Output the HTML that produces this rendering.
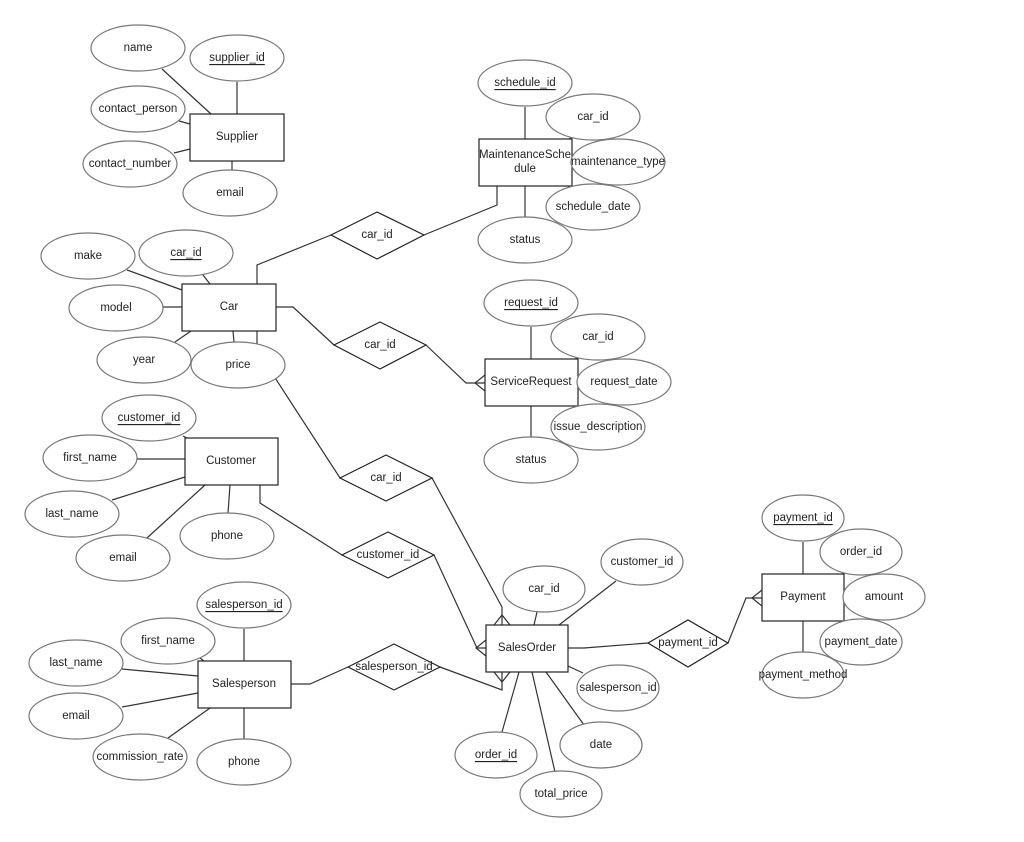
<!DOCTYPE html>
<html><head><meta charset="utf-8"><style>
html,body{margin:0;padding:0;background:#fff}
svg{display:block}
text{font-family:"Liberation Sans",Arial,sans-serif;font-size:11.5px;fill:#222;text-anchor:middle;dominant-baseline:central}
.e{fill:#fff;stroke:#777;stroke-width:1.2}
.r{fill:#fff;stroke:#222;stroke-width:1.2}
.l{fill:none;stroke:#333;stroke-width:1.2}
</style></head><body>
<svg width="1024" height="842" viewBox="0 0 1024 842" xmlns="http://www.w3.org/2000/svg">
<g class="l">
<line x1="162" y1="69" x2="211" y2="114"/><line x1="237" y1="82" x2="237" y2="114"/>
<line x1="179" y1="121" x2="190" y2="124"/><line x1="174" y1="153" x2="190" y2="149"/>
<line x1="232" y1="161" x2="232" y2="171"/>
<line x1="127" y1="270" x2="182" y2="290"/><line x1="203" y1="275" x2="210" y2="284"/>
<line x1="162" y1="307" x2="182" y2="307"/><line x1="175" y1="342" x2="191" y2="331"/>
<line x1="233" y1="331" x2="234" y2="342"/>
<polyline points="257,331 257,350 340,478 432,478 502,607 502,625"/>
<polyline points="257,284 257,265 331,235"/>
<polyline points="424,235 497,205 497,186"/>
<polyline points="276,307 293,307 334,345"/>
<polyline points="426,345 466,383 485,383"/>
<line x1="525" y1="107" x2="525" y2="139"/><line x1="525" y1="186" x2="525" y2="217"/>
<line x1="531" y1="327" x2="531" y2="359"/><line x1="531" y1="406" x2="531" y2="437"/>
<line x1="568" y1="140" x2="572" y2="137"/><line x1="568" y1="186" x2="572" y2="189"/>
<line x1="574" y1="360" x2="578" y2="357"/><line x1="574" y1="406" x2="578" y2="409"/>
<line x1="183" y1="436" x2="187" y2="438"/><line x1="137" y1="459" x2="185" y2="459"/>
<line x1="112" y1="500" x2="185" y2="477"/><line x1="147" y1="538" x2="205" y2="485"/>
<line x1="230" y1="485" x2="228" y2="513"/>
<polyline points="260,485 260,503 342,555"/>
<polyline points="434,555 477,648 486,648"/>
<line x1="244" y1="629" x2="244" y2="661"/><line x1="200" y1="658" x2="204" y2="661"/>
<line x1="122" y1="669" x2="198" y2="676"/><line x1="122" y1="707" x2="198" y2="693"/>
<line x1="168" y1="738" x2="210" y2="708"/><line x1="244" y1="708" x2="244" y2="739"/>
<polyline points="291,684 310,684 348,667"/>
<polyline points="440,667 502,690 502,672"/>
<line x1="559" y1="625" x2="616" y2="581"/><line x1="537" y1="612" x2="534" y2="625"/>
<polyline points="568,648 584,648 648,643"/>
<line x1="568" y1="666" x2="583" y2="673"/>
<line x1="519" y1="672" x2="502" y2="732"/><line x1="532" y1="672" x2="555" y2="772"/>
<line x1="546" y1="672" x2="584" y2="725"/>
<polyline points="728,643 746,598 762,598"/>
<line x1="803" y1="542" x2="803" y2="574"/><line x1="803" y1="621" x2="803" y2="652"/>
<line x1="841" y1="575" x2="845" y2="572"/><line x1="841" y1="621" x2="845" y2="624"/>
<polyline points="489,186 497,176 505,186"/>
<polyline points="485,375 475,383 485,391"/>
<polyline points="494,625 502,615 510,625"/>
<polyline points="486,640 476,648 486,656"/>
<polyline points="494,672 502,682 510,672"/>
<polyline points="762,590 752,598 762,606"/>
</g>
<g class="r">
<polygon points="331,235 377,212 424,235 377,259"/>
<polygon points="334,345 380,322 426,345 380,369"/>
<polygon points="340,478 386,455 432,478 386,501"/>
<polygon points="342,555 388,532 434,555 388,578"/>
<polygon points="348,667 394,644 440,667 394,690"/>
<polygon points="648,643 688,620 728,643 688,667"/>
</g>
<g>
<text x="377" y="235">car_id</text><text x="380" y="345">car_id</text>
<text x="386" y="478">car_id</text><text x="388" y="555">customer_id</text>
<text x="394" y="667">salesperson_id</text><text x="688" y="643">payment_id</text>
</g>
<g class="r">
<rect x="190" y="114" width="94" height="47"/>
<rect x="182" y="284" width="94" height="47"/>
<rect x="479" y="139" width="93" height="47"/>
<rect x="485" y="359" width="93" height="47"/>
<rect x="185" y="438" width="93" height="47"/>
<rect x="198" y="661" width="93" height="47"/>
<rect x="486" y="625" width="82" height="47"/>
<rect x="762" y="574" width="82" height="47"/>
</g>
<g>
<text x="237" y="137">Supplier</text><text x="229" y="307">Car</text>
<text x="525" y="155">MaintenanceSche</text><text x="525" y="169">dule</text>
<text x="531" y="382">ServiceRequest</text><text x="231" y="461">Customer</text>
<text x="244" y="684">Salesperson</text><text x="527" y="648">SalesOrder</text>
<text x="803" y="597">Payment</text>
</g>
<g class="e">
<ellipse cx="138" cy="48" rx="47" ry="23"/><ellipse cx="237" cy="58" rx="47" ry="23"/>
<ellipse cx="138" cy="109" rx="47" ry="23"/><ellipse cx="130" cy="164" rx="47" ry="23"/>
<ellipse cx="230" cy="193" rx="47" ry="23"/>
<ellipse cx="88" cy="256" rx="47" ry="23"/><ellipse cx="186" cy="253" rx="47" ry="23"/>
<ellipse cx="116" cy="308" rx="47" ry="23"/><ellipse cx="144" cy="360" rx="47" ry="23"/>
<ellipse cx="238" cy="365" rx="47" ry="23"/>
<ellipse cx="525" cy="83" rx="47" ry="23"/><ellipse cx="593" cy="117" rx="47" ry="23"/>
<ellipse cx="618" cy="162" rx="47" ry="23"/><ellipse cx="593" cy="207" rx="47" ry="23"/>
<ellipse cx="525" cy="240" rx="47" ry="23"/>
<ellipse cx="531" cy="303" rx="47" ry="23"/><ellipse cx="598" cy="337" rx="47" ry="23"/>
<ellipse cx="624" cy="382" rx="47" ry="23"/><ellipse cx="598" cy="427" rx="47" ry="23"/>
<ellipse cx="531" cy="460" rx="47" ry="23"/>
<ellipse cx="149" cy="418" rx="47" ry="23"/><ellipse cx="90" cy="458" rx="47" ry="23"/>
<ellipse cx="72" cy="514" rx="47" ry="23"/><ellipse cx="123" cy="558" rx="47" ry="23"/>
<ellipse cx="227" cy="536" rx="47" ry="23"/>
<ellipse cx="244" cy="605" rx="47" ry="23"/><ellipse cx="168" cy="641" rx="47" ry="23"/>
<ellipse cx="76" cy="663" rx="47" ry="23"/><ellipse cx="76" cy="716" rx="47" ry="23"/>
<ellipse cx="140" cy="757" rx="47" ry="23"/><ellipse cx="244" cy="762" rx="47" ry="23"/>
<ellipse cx="642" cy="562" rx="41" ry="23"/><ellipse cx="544" cy="589" rx="41" ry="23"/>
<ellipse cx="618" cy="688" rx="41" ry="23"/><ellipse cx="601" cy="745" rx="41" ry="23"/>
<ellipse cx="496" cy="755" rx="41" ry="23"/><ellipse cx="561" cy="794" rx="41" ry="23"/>
<ellipse cx="803" cy="518" rx="41" ry="23"/><ellipse cx="861" cy="552" rx="41" ry="23"/>
<ellipse cx="884" cy="597" rx="41" ry="23"/><ellipse cx="861" cy="642" rx="41" ry="23"/>
<ellipse cx="803" cy="675" rx="41" ry="23"/>
</g>
<g>
<text x="138" y="48">name</text><text x="237" y="58" text-decoration="underline">supplier_id</text>
<text x="138" y="109">contact_person</text><text x="130" y="164">contact_number</text>
<text x="230" y="193">email</text>
<text x="88" y="256">make</text><text x="186" y="253" text-decoration="underline">car_id</text>
<text x="116" y="308">model</text><text x="144" y="360">year</text><text x="238" y="365">price</text>
<text x="525" y="83" text-decoration="underline">schedule_id</text><text x="593" y="117">car_id</text>
<text x="618" y="162">maintenance_type</text><text x="593" y="207">schedule_date</text>
<text x="525" y="240">status</text>
<text x="531" y="303" text-decoration="underline">request_id</text><text x="598" y="337">car_id</text>
<text x="624" y="382">request_date</text><text x="598" y="427">issue_description</text>
<text x="531" y="460">status</text>
<text x="149" y="418" text-decoration="underline">customer_id</text><text x="90" y="458">first_name</text>
<text x="72" y="514">last_name</text><text x="123" y="558">email</text><text x="227" y="536">phone</text>
<text x="244" y="605" text-decoration="underline">salesperson_id</text><text x="168" y="641">first_name</text>
<text x="76" y="663">last_name</text><text x="76" y="716">email</text>
<text x="140" y="757">commission_rate</text><text x="244" y="762">phone</text>
<text x="642" y="562">customer_id</text><text x="544" y="589">car_id</text>
<text x="618" y="688">salesperson_id</text><text x="601" y="745">date</text>
<text x="496" y="755" text-decoration="underline">order_id</text><text x="561" y="794">total_price</text>
<text x="803" y="518" text-decoration="underline">payment_id</text><text x="861" y="552">order_id</text>
<text x="884" y="597">amount</text><text x="861" y="642">payment_date</text>
<text x="803" y="675">payment_method</text>
</g>
</svg>
</body></html>
